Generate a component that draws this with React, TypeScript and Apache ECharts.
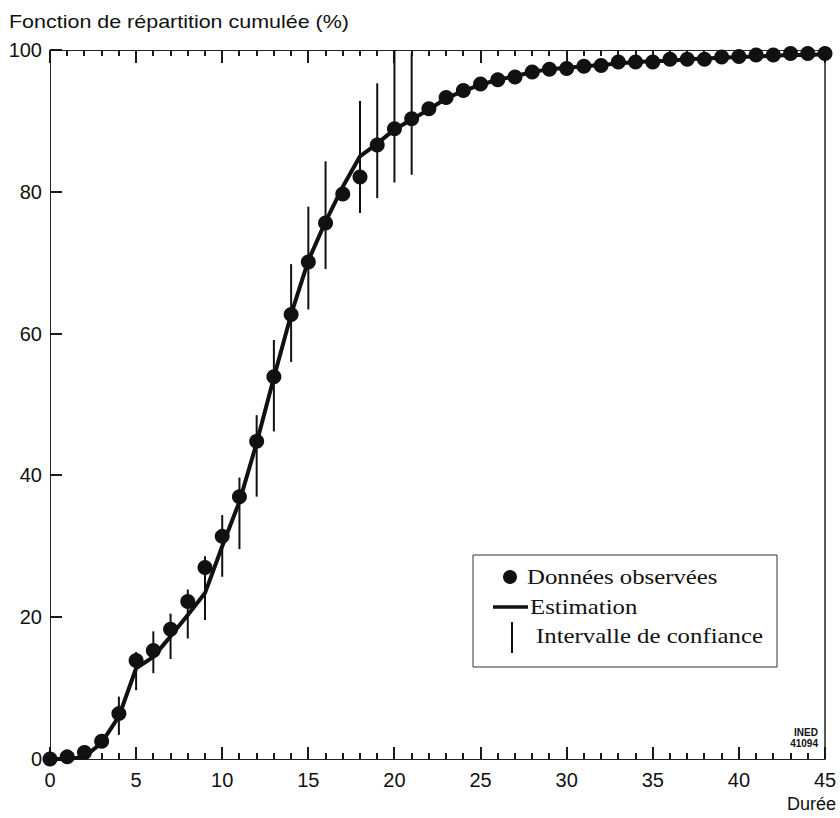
import React, { useEffect, useRef } from "react";
import * as echarts from "echarts";

const durations: number[] = Array.from({ length: 46 }, (_, i) => i);

const observed: number[] = [
  0, 0.3, 0.9, 2.5, 6.4, 13.9, 15.3, 18.3, 22.2, 27.0,
  31.4, 37.0, 44.8, 53.9, 62.7, 70.1, 75.6, 79.7, 82.1, 86.6,
  88.9, 90.3, 91.7, 93.3, 94.3, 95.2, 95.8, 96.2, 96.9, 97.3,
  97.4, 97.7, 97.8, 98.3, 98.3, 98.3, 98.7, 98.7, 98.7, 99.0,
  99.1, 99.3, 99.3, 99.5, 99.5, 99.5,
];

const estimation: number[] = [
  0, 0, 0.3, 2.3, 6.0, 12.8, 14.4, 17.3, 20.3, 23.4,
  30.0, 36.3, 44.6, 53.8, 62.7, 70.3, 75.8, 80.7, 85.0, 86.8,
  88.8, 90.2, 91.6, 93.2, 94.2, 95.1, 95.8, 96.3, 96.9, 97.3,
  97.5, 97.7, 97.9, 98.1, 98.3, 98.4, 98.5, 98.7, 98.8, 98.9,
  99.0, 99.1, 99.2, 99.3, 99.3, 99.4,
];

const ciLow: (number | null)[] = [
  null, null, null, null, 3.4, 9.7, 12.1, 14.1, 17.0, 19.6,
  25.7, 29.6, 37.0, 46.2, 56.0, 63.4, 69.1, null, 77.0, 79.1,
  81.3, 82.4,
];
const ciHigh: (number | null)[] = [
  null, null, null, null, 8.8, 15.1, 18.0, 20.5, 23.9, 28.6,
  34.4, 39.7, 48.5, 59.1, 69.8, 77.9, 84.3, null, 92.8, 95.3,
  100, 99.5,
];

const xTicks = { min: 0, max: 45, interval: 5 };
const yTicks = { min: 0, max: 100, interval: 20 };
const xTickValues: number[] = durations; // one tick per unit, long ones every 5
const yTickValues: number[] = [0, 20, 40, 60, 80, 100];

const yTitle = "Fonction de répartition cumulée (%)";
const xTitle = "Durée";
const legendLabels = ["Données observées", "Estimation", "Intervalle de confiance"];

const SANS = "'Liberation Sans', Arial, Helvetica, sans-serif";
const SERIF = "'Liberation Serif', 'Times New Roman', serif";
const INK = "#111";
const AXIS = "#222";
const TICK_W = 1.6;

export default function App() {
  const ref = useRef<HTMLDivElement>(null);

  useEffect(() => {
    if (!ref.current) return;
    const chart = echarts.init(ref.current, undefined, { renderer: "svg" });

    const obsData = durations.map((d, i) => [d, observed[i]]);
    const estData = durations.map((d, i) => [d, estimation[i]]);
    const ciData: number[][] = [];
    durations.forEach((d, i) => {
      const lo = ciLow[i];
      const hi = ciHigh[i];
      if (lo != null && hi != null) ciData.push([d, lo, hi]);
    });

    // filled rectangles used as tick marks
    const vTick = (x: number, y: number, len: number) => ({
      type: "rect",
      shape: { x: x - TICK_W / 2, y: len < 0 ? y + len : y, width: TICK_W, height: Math.abs(len) },
      style: { fill: INK },
    });
    const hTick = (x: number, y: number, len: number) => ({
      type: "rect",
      shape: { x, y: y - TICK_W / 2, width: len, height: TICK_W },
      style: { fill: INK },
    });

    const legendText = (text: string, x: number, y: number) => ({
      type: "text",
      x,
      y,
      scaleX: 1.18,
      style: { text, font: `21px ${SERIF}`, fill: INK, verticalAlign: "middle" },
    });

    const baseGraphic: any[] = [
      {
        type: "text",
        x: 9,
        y: 12,
        scaleX: 1.13,
        style: { text: yTitle, font: `19px ${SANS}`, fill: INK },
      },
      {
        type: "text",
        x: 836,
        y: 795,
        style: { text: xTitle, font: `18px ${SANS}`, fill: INK, align: "right" },
      },
      {
        type: "text",
        x: 818,
        y: 727,
        style: {
          text: "INED\n41094",
          font: `bold 10px ${SANS}`,
          fill: INK,
          align: "right",
          lineHeight: 11,
        },
      },
      {
        type: "group",
        x: 473,
        y: 555,
        children: [
          {
            type: "rect",
            shape: { x: 0, y: 0, width: 304, height: 112 },
            style: { fill: "#fff", stroke: "#333", lineWidth: 1 },
          },
          { type: "circle", shape: { cx: 37, cy: 22, r: 7 }, style: { fill: INK } },
          {
            type: "line",
            shape: { x1: 20, y1: 52, x2: 55, y2: 52 },
            style: { stroke: INK, lineWidth: 3.5 },
          },
          {
            type: "line",
            shape: { x1: 39, y1: 67, x2: 39, y2: 98 },
            style: { stroke: INK, lineWidth: 2 },
          },
          legendText(legendLabels[0], 54, 22),
          legendText(legendLabels[1], 57, 52),
          legendText(legendLabels[2], 63, 81),
        ],
      },
    ];

    chart.setOption({
      animation: false,
      backgroundColor: "#fff",
      grid: { left: 50, right: 15, top: 50, bottom: 59, containLabel: false },
      xAxis: [
        {
          type: "value",
          position: "bottom",
          ...xTicks,
          axisLine: { show: true, lineStyle: { color: AXIS, width: 1 } },
          axisTick: { show: false },
          splitLine: { show: false },
          axisLabel: { fontSize: 20, color: INK, fontFamily: SANS, margin: 11 },
        },
        {
          type: "value",
          position: "top",
          ...xTicks,
          axisLine: { show: true, onZero: false, lineStyle: { color: AXIS, width: 1 } },
          axisTick: { show: false },
          splitLine: { show: false },
          axisLabel: { show: false },
        },
      ],
      yAxis: [
        {
          type: "value",
          position: "left",
          ...yTicks,
          axisLine: { show: true, lineStyle: { color: AXIS, width: 1 } },
          axisTick: { show: false },
          splitLine: { show: false },
          axisLabel: { fontSize: 20, color: INK, fontFamily: SANS, margin: 8 },
        },
        {
          type: "value",
          position: "right",
          ...yTicks,
          axisLine: { show: true, onZero: false, lineStyle: { color: AXIS, width: 1.5 } },
          axisTick: { show: false },
          splitLine: { show: false },
          axisLabel: { show: false },
        },
      ],
      series: [
        {
          // x-axis tick marks, drawn from the axis scale
          type: "custom",
          name: "xTickMarks",
          data: xTickValues.map((v) => [v, yTicks.min, yTicks.max]),
          encode: { x: 0, y: [1, 2] },
          z: 5,
          renderItem: (_params: any, api: any) => {
            const v = api.value(0);
            const major = v % xTicks.interval === 0;
            const b = api.coord([v, yTicks.min]);
            const t = api.coord([v, yTicks.max]);
            const x = Math.round(b[0]);
            return {
              type: "group",
              children: [vTick(x, b[1], major ? -12 : -6), vTick(x, t[1], major ? 13 : 6)],
            };
          },
        },
        {
          // y-axis tick marks
          type: "custom",
          name: "yTickMarks",
          data: yTickValues.map((v) => [xTicks.min, v]),
          encode: { x: 0, y: 1 },
          z: 5,
          renderItem: (_params: any, api: any) => {
            const p = api.coord([xTicks.min, api.value(1)]);
            return hTick(p[0], Math.round(p[1]), 12);
          },
        },
        {
          type: "custom",
          name: legendLabels[2],
          data: ciData,
          encode: { x: 0, y: [1, 2] },
          z: 1,
          renderItem: (_params: any, api: any) => {
            const x = api.value(0);
            const p1 = api.coord([x, api.value(1)]);
            const p2 = api.coord([x, api.value(2)]);
            return {
              type: "line",
              shape: { x1: p1[0], y1: p1[1], x2: p2[0], y2: p2[1] },
              style: { stroke: INK, lineWidth: 2 },
            };
          },
        },
        {
          type: "line",
          name: legendLabels[1],
          data: estData,
          showSymbol: false,
          symbol: "none",
          lineStyle: { color: INK, width: 4 },
          z: 2,
          clip: false,
        },
        {
          type: "scatter",
          name: legendLabels[0],
          data: obsData,
          symbol: "circle",
          symbolSize: 15,
          itemStyle: { color: INK, opacity: 1 },
          z: 3,
          clip: false,
        },
      ],
      graphic: baseGraphic,
    });

    // Same tick marks as graphic rectangles, placed through the axes' scales
    const gx = (v: number) => Number(chart.convertToPixel({ xAxisIndex: 0 }, v));
    const gy = (v: number) => Number(chart.convertToPixel({ yAxisIndex: 0 }, v));
    const yb = gy(yTicks.min);
    const yt = gy(yTicks.max);
    const xl = gx(xTicks.min);
    const ticks: any[] = [];
    if (isFinite(yb) && isFinite(yt) && isFinite(xl)) {
      xTickValues.forEach((v) => {
        const x = Math.round(gx(v));
        const major = v % xTicks.interval === 0;
        ticks.push(vTick(x, yb, major ? -12 : -6));
        ticks.push(vTick(x, yt, major ? 13 : 6));
      });
      yTickValues.forEach((v) => {
        ticks.push(hTick(xl, Math.round(gy(v)), 12));
      });
      chart.setOption({
        graphic: [...baseGraphic, { type: "group", z: 10, children: ticks }],
      });
    }

    return () => chart.dispose();
  }, []);

  return (
    <div
      ref={ref}
      style={{ position: "absolute", left: 0, top: 0, width: 840, height: 818, background: "#fff" }}
    />
  );
}
